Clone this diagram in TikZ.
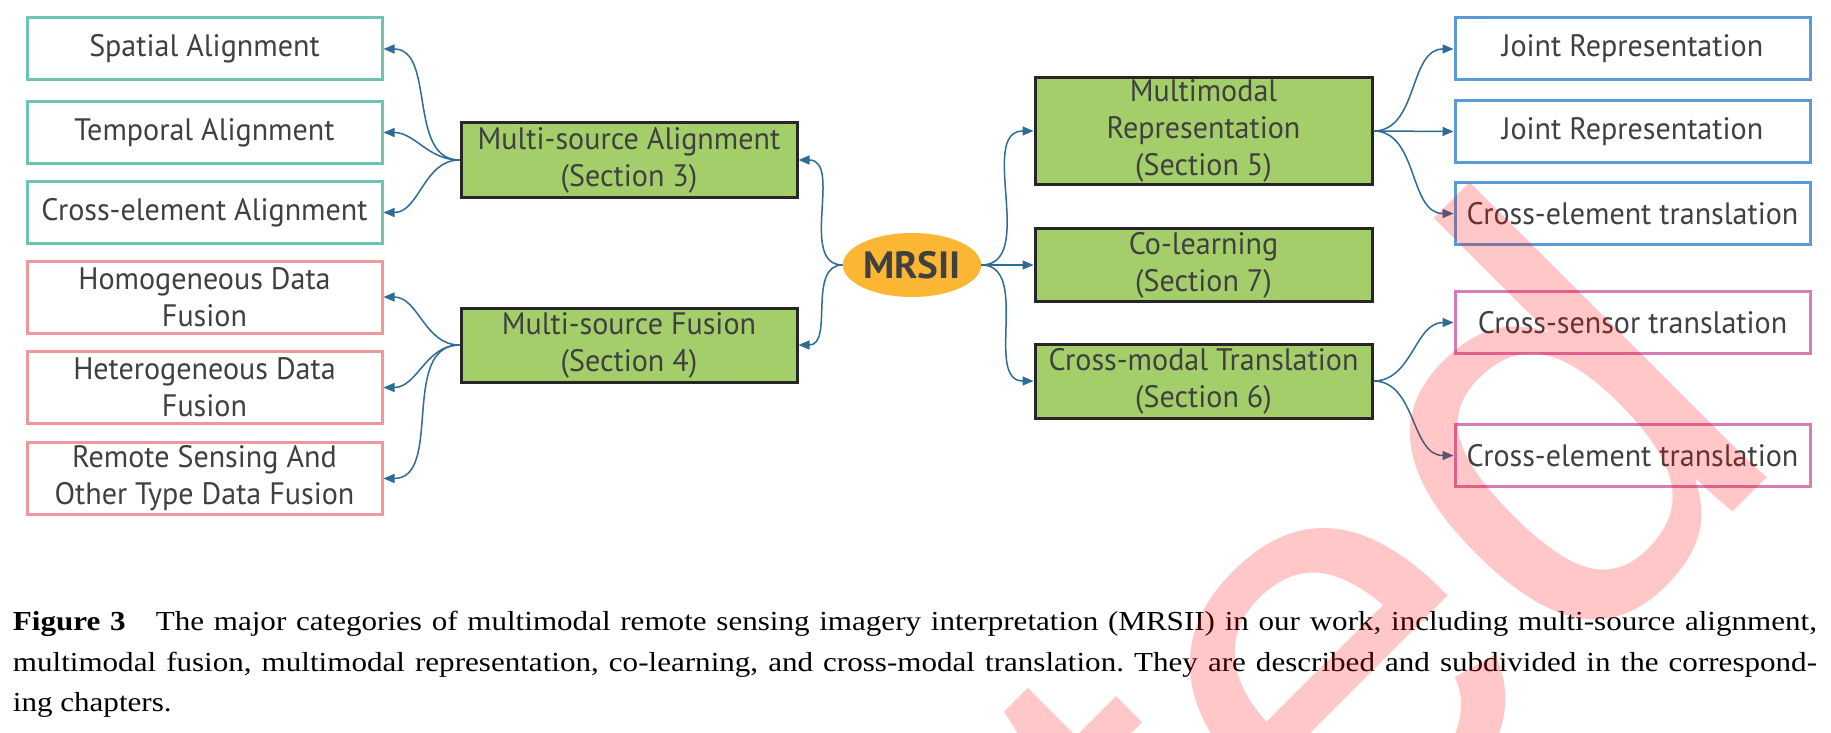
\documentclass[tikz,border=0pt]{standalone}
\usepackage{fontspec}
\setmainfont{Liberation Serif}
\newfontfamily\capfont[FakeStretch=1.13]{Liberation Serif}
\newfontfamily\boxfont[FakeStretch=0.97]{PT Sans}
\newfontfamily\wmfont{Liberation Sans}
\usetikzlibrary{arrows.meta,shapes.geometric}
\definecolor{tealc}{HTML}{6EC4B3}
\definecolor{pinkc}{HTML}{F0979B}
\definecolor{bluec}{HTML}{5B9BD5}
\definecolor{magc}{HTML}{D67DB3}
\definecolor{gfill}{HTML}{A3CE6A}
\definecolor{gborder}{HTML}{262626}
\definecolor{orangec}{HTML}{FBB733}
\definecolor{arrowc}{HTML}{2E6B96}
\definecolor{txtc}{HTML}{404040}
\tikzset{
  boxtext/.style={font=\boxfont\fontsize{31}{37}\selectfont, text=txtc, align=center, inner sep=0pt},
  leaf/.style={boxtext, draw, line width=3pt, fill=white, minimum width=355pt},
  tealbox/.style={leaf, draw=tealc, minimum height=62pt},
  pinkbox/.style={leaf, draw=pinkc, minimum height=72pt},
  bluebox/.style={leaf, draw=bluec, minimum height=62pt},
  magbox/.style={leaf, draw=magc, minimum height=62pt},
  greenbox/.style={boxtext, draw=gborder, fill=gfill, line width=3pt, minimum width=336pt, minimum height=74pt},
  conn/.style={draw=arrowc, line width=1.5pt, -{Triangle[length=11pt,width=9pt]}},
  captext/.style={anchor=base west, inner sep=0pt, font=\capfont\fontsize{27.5}{40}\selectfont\frenchspacing},
}
\begin{document}
\begin{tikzpicture}[x=1pt,y=-1pt]
\useasboundingbox (0,0) rectangle (1831,733);
\fill[white] (0,0) rectangle (1831,733);

% left leaves
\node[tealbox] (sa) at (204.5,49) {Spatial Alignment};
\node[tealbox] (ta) at (204.5,132.5) {Temporal Alignment};
\node[tealbox] (cea) at (204.5,212.5) {Cross-element Alignment};
\node[pinkbox] (hom) at (204.5,297) {Homogeneous Data\\Fusion};
\node[pinkbox] (het) at (204.5,387.5) {Heterogeneous Data\\Fusion};
\node[pinkbox] (rs) at (204.5,478.5) {Remote Sensing And\\Other Type Data Fusion};

% green boxes
\node[greenbox] (msa) at (629,160) {Multi-source Alignment\\(Section 3)};
\node[greenbox] (msf) at (629,345) {Multi-source Fusion\\(Section 4)};
\node[greenbox, minimum width=337pt, minimum height=106pt] (mr) at (1203.5,131) {Multimodal\\Representation\\(Section 5)};
\node[greenbox, minimum width=337pt, minimum height=73pt] (cl) at (1203.5,265) {Co-learning\\(Section 7)};
\node[greenbox, minimum width=337pt] (cmt) at (1203.5,381) {Cross-modal Translation\\(Section 6)};

% center
\node[ellipse, fill=orangec, minimum width=132pt, minimum height=64pt, inner sep=0pt,
      font=\boxfont\bfseries\fontsize{38}{38}\selectfont, text=txtc] (mrsii) at (912,265) {\scalebox{1.06}[1]{MRSII}};

% right leaves
\node[bluebox] (jr1) at (1632.5,49) {Joint Representation};
\node[bluebox] (jr2) at (1632.5,131.5) {Joint Representation};
\node[bluebox] (cet) at (1632.5,213.5) {Cross-element translation};
\node[magbox] (cst) at (1632.5,322.5) {Cross-sensor translation};
\node[magbox] (cet2) at (1632.5,455.5) {Cross-element translation};

% connectors
\draw[conn] (msa.west) to[out=180,in=0] (sa.east);
\draw[conn] (msa.west) to[out=180,in=0] (ta.east);
\draw[conn] (msa.west) to[out=180,in=0] (cea.east);
\draw[conn] (msf.west) to[out=180,in=0] (hom.east);
\draw[conn] (msf.west) to[out=180,in=0] (het.east);
\draw[conn] (msf.west) to[out=180,in=0] (rs.east);
\draw[conn] (mrsii.west) to[out=180,in=0] (msa.east);
\draw[conn] (mrsii.west) to[out=180,in=0] (msf.east);
\draw[conn] (mrsii.east) to[out=0,in=180] (mr.west);
\draw[conn] (mrsii.east) -- (cl.west);
\draw[conn] (mrsii.east) to[out=0,in=180] (cmt.west);
\draw[conn] (mr.east) to[out=0,in=180] (jr1.west);
\draw[conn] (mr.east) -- (jr2.west);
\draw[conn] (mr.east) to[out=0,in=180] (cet.west);
\draw[conn] (cmt.east) to[out=0,in=180] (cst.west);
\draw[conn] (cmt.east) to[out=0,in=180] (cet2.west);

% caption
\node[captext] (cap1) at (12.7,630.7)
  {\makebox[1804pt][s]{\textbf{Figure 3}\hspace{1.1em}The major categories of multimodal remote sensing imagery interpretation (MRSII) in our work, including multi-source alignment,}};
\node[captext] (cap2) at (12.7,671)
  {\makebox[1804pt][s]{multimodal fusion, multimodal representation, co-learning, and cross-modal translation. They are described and subdivided in the correspond-}};
\node[captext] (cap3) at (12.7,711.5) {ing chapters.};

% watermark
\node[rotate=45, anchor=base east, inner sep=0pt, font=\wmfont\fontsize{578}{578}\selectfont,
      text=red, text opacity=0.22] (wm) at (1794,451) {Accepted};
\end{tikzpicture}
\end{document}
